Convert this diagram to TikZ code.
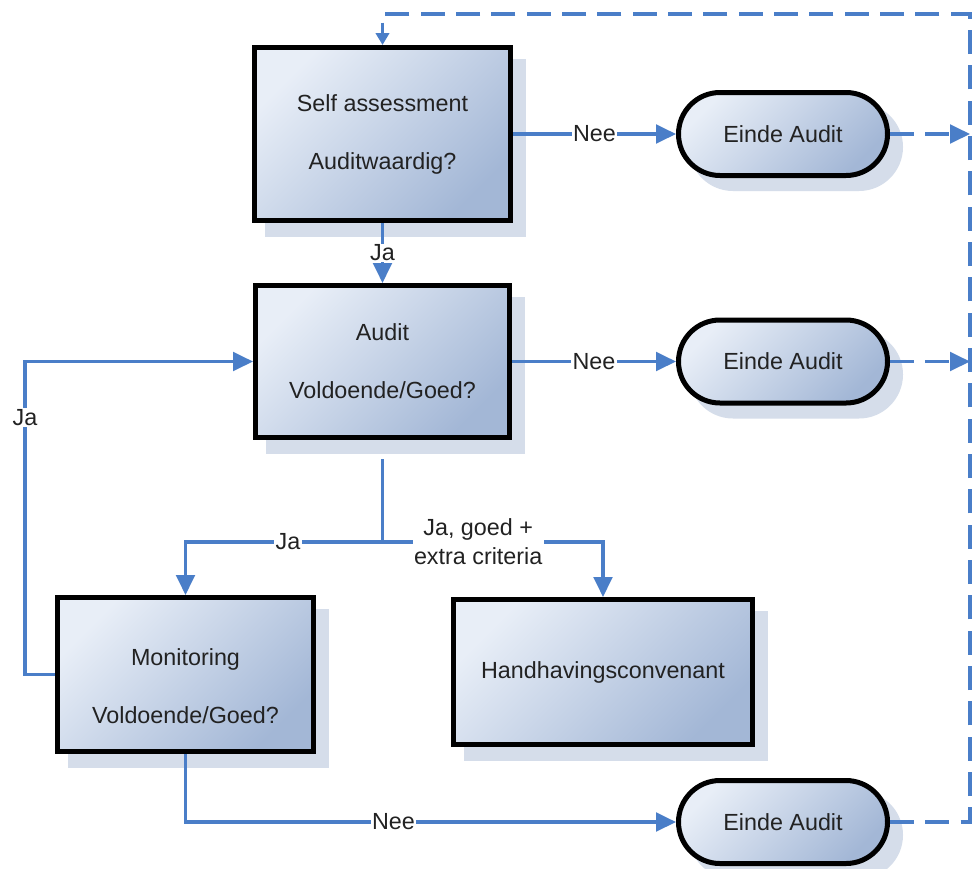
\documentclass[tikz,border=0pt]{standalone}
\usepackage{fontspec}
\setmainfont{Liberation Sans}
\usetikzlibrary{arrows.meta,shapes.misc,calc,backgrounds}
\definecolor{boxlight}{HTML}{E8EEF7}
\definecolor{boxdark}{HTML}{A3B7D6}
\definecolor{shadowcol}{HTML}{D5DDEA}
\definecolor{linecol}{HTML}{4A7EC8}
\definecolor{textcol}{HTML}{222222}
\begin{document}
\begin{tikzpicture}[x=0.75pt,y=-0.75pt,
  every node/.style={font=\fontsize{17.5}{21}\selectfont, text=textcol},
  procbox/.style={draw=black, line width=3.75pt, top color=boxlight, bottom color=boxdark, shading angle=45, align=center, inner sep=0pt, font=\fontsize{17.5}{43.5}\selectfont},
  endbox/.style={procbox, rounded rectangle, minimum width=156.75pt, minimum height=62.25pt},
  shadowbox/.style={fill=shadowcol, draw=none, inner sep=0pt},
  conn/.style={draw=linecol, line width=2.4pt},
  arr/.style={conn, -{Triangle[length=15pt,width=14pt]}},
  dashline/.style={dash pattern=on 18pt off 8.5pt},
  lbl/.style={fill=white, inner sep=1pt},
]
\useasboundingbox (0,0) rectangle (973,868);

% main nodes
\node[procbox, minimum width=192pt, minimum height=129.75pt] (self) at (382.5,134) {Self assessment\\Auditwaardig?};
\node[procbox, minimum width=190.5pt, minimum height=114pt] (audit) at (382.5,361.5) {Audit\\Voldoende/Goed?};
\node[procbox, minimum width=192pt, minimum height=115.5pt] (monitor) at (185.5,674.5) {};
\node[align=center, inner sep=0pt, font=\fontsize{17.5}{43.5}\selectfont] (monitortext) at ($(monitor)+(0,12)$) {Monitoring\\Voldoende/Goed?};
\node[procbox, minimum width=224.25pt, minimum height=108.75pt] (handh) at (603,672) {Handhavingsconvenant};
\node[endbox] (e1) at (783,134) {Einde Audit};
\node[endbox] (e2) at (783,361.5) {Einde Audit};
\node[endbox] (e3) at (783,822) {Einde Audit};

% background and shadows
\begin{scope}[on background layer]
  \fill[white] (0,0) rectangle (973,868);
  \node[shadowbox, minimum width=195.75pt, minimum height=133.5pt] at ($(self)+(13,14)$) {};
  \node[shadowbox, minimum width=194.25pt, minimum height=117.75pt] at ($(audit)+(13,14)$) {};
  \node[shadowbox, minimum width=195.75pt, minimum height=119.25pt] at ($(monitor)+(13,14)$) {};
  \node[shadowbox, minimum width=228pt, minimum height=112.5pt] at ($(handh)+(13,14)$) {};
  \node[shadowbox, rounded rectangle, minimum width=160.5pt, minimum height=66pt] at ($(e1)+(13,13)$) {};
  \node[shadowbox, rounded rectangle, minimum width=160.5pt, minimum height=66pt] at ($(e2)+(13,13)$) {};
  \node[shadowbox, rounded rectangle, minimum width=160.5pt, minimum height=66pt] at ($(e3)+(13,13)$) {};
\end{scope}

% helper coordinates
\coordinate (ad) at ($(audit.south)+(0,19)$);
\coordinate (j) at (382.5,542);
\coordinate (lx) at (25,0);
\coordinate (rx) at (970,0);
\coordinate (ty) at (0,14);

% connectors
\draw[arr] (self.east) -- node[lbl]{Nee} (e1.west);
\draw[arr] (self.south) -- node[lbl]{Ja} (audit.north);
\draw[arr] (audit.east) -- node[lbl]{Nee} (e2.west);
\draw[conn] (ad) -- (j);
\draw[arr] (j) -| node[lbl,pos=0.24]{Ja} (monitor.north);
\draw[arr] (j) -| node[lbl,pos=0.217,align=center,font=\fontsize{17.5}{21.75}\selectfont]{Ja, goed +\\extra criteria} (handh.north);
\draw[arr] (monitor.west) -- (monitor.west -| lx) |- node[lbl,pos=0.41]{Ja} (audit.west);
\draw[arr] (monitor.south) |- node[lbl,pos=0.712]{Nee} (e3.west);

\draw[arr, dashline] (e1.east) -- (e1.east -| rx);
\draw[arr, dashline] (e2.east) -- (e2.east -| rx);
\draw[conn, dashline, -{Triangle[length=9pt,width=10pt]}] (e3.east) -- (e3.east -| rx) -- (rx |- ty) -| (self.north);
\end{tikzpicture}
\end{document}
